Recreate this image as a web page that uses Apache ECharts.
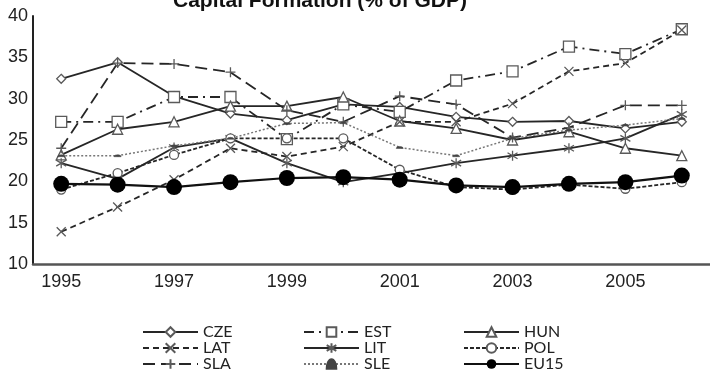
<!DOCTYPE html>
<html>
<head>
<meta charset="utf-8">
<script src="https://cdn.jsdelivr.net/npm/echarts@6/dist/echarts.min.js"></script>
<style>
  html, body { margin: 0; padding: 0; background: #fff; }
  #chart { width: 710px; height: 391px; }
</style>
</head>
<body>
<div id="chart"></div>
<script>
const years = ['1995', '1996', '1997', '1998', '1999', '2000', '2001', '2002', '2003', '2004', '2005', '2006'];
const cze  = [32.4, 34.4, 30.3, 28.2, 27.4, 29.3, 29.0, 27.8, 27.2, 27.3, 26.4, 27.2];
const est  = [27.2, 27.2, 30.2, 30.2, 25.1, 29.3, 28.4, 32.2, 33.3, 36.3, 35.4, 38.4];
const hun  = [23.2, 26.3, 27.2, 29.1, 29.1, 30.2, 27.3, 26.4, 25.0, 26.0, 24.0, 23.1];
const lat  = [13.9, 16.9, 20.2, 24.0, 23.0, 24.2, 27.2, 27.2, 29.4, 33.3, 34.3, 38.3];
const lit  = [22.2, 20.3, 24.1, 25.2, 22.2, 19.9, 21.0, 22.2, 23.1, 24.0, 25.2, 28.1];
const pol  = [19.0, 21.0, 23.2, 25.2, 25.2, 25.2, 21.4, 19.3, 19.0, 19.6, 19.1, 19.9];
const sla  = [24.0, 34.3, 34.2, 33.2, 28.6, 27.2, 30.3, 29.3, 25.3, 26.5, 29.2, 29.2];
const sle  = [23.1, 23.1, 24.3, 25.2, 27.0, 27.1, 24.1, 23.1, 25.2, 26.2, 26.8, 27.6];
const eu15 = [19.7, 19.6, 19.3, 19.9, 20.4, 20.5, 20.2, 19.5, 19.3, 19.7, 19.9, 20.7];

const ink = '#262626';
const markEdge = '#5a5a5a';

// marker shapes drawn as strokes
const xMark = 'path://M0,0L10,10M10,0L0,10';
const plusMark = 'path://M5,0L5,10M0,5L10,5';
const starMark = 'path://M5,0L5,10M0,2L10,8M10,2L0,8';
const halfDot = 'path://M0,5A5,5 0 0 1 10,5Z';

function line(name, data, opts) {
    return Object.assign({
        name: name,
        type: 'line',
        data: data,
        symbolSize: 9,
        lineStyle: { color: ink, width: 1.8, type: 'solid' },
        itemStyle: { color: '#fff', borderColor: markEdge, borderWidth: 1.3 },
        emphasis: { disabled: true },
        animation: false
    }, opts);
}

const series = [
    line('CZE', cze, { symbol: 'diamond', symbolSize: 9 }),
    line('EST', est, { symbol: 'rect', symbolSize: 11,
        lineStyle: { color: ink, width: 1.8, type: [10, 5, 2, 5] } }),
    line('HUN', hun, { symbol: 'triangle', symbolSize: 10 }),
    line('LAT', lat, { symbol: xMark, symbolSize: 9,
        lineStyle: { color: ink, width: 1.8, type: [6, 4] } }),
    line('LIT', lit, { symbol: starMark, symbolSize: 10 }),
    line('POL', pol, { symbol: 'circle', symbolSize: 9,
        lineStyle: { color: ink, width: 1.8, type: [4, 2] } }),
    line('SLA', sla, { symbol: plusMark, symbolSize: 10,
        lineStyle: { color: ink, width: 1.8, type: [12, 6] } }),
    line('SLE', sle, { symbol: halfDot, symbolSize: [7, 4], symbolKeepAspect: true,
        itemStyle: { color: '#444', borderColor: '#444', borderWidth: 0.5 },
        lineStyle: { color: '#777', width: 1.5, type: [2, 2] } }),
    line('EU15', eu15, { symbol: 'circle', symbolSize: 16, z: 5,
        itemStyle: { color: '#000', borderColor: '#000', borderWidth: 0 },
        lineStyle: { color: '#111', width: 2.2 } })
];

const legendBase = {
    orient: 'vertical',
    top: 324,
    padding: 0,
    itemWidth: 55,
    itemHeight: 12,
    itemGap: 0,
    selectedMode: false,
    textStyle: { fontFamily: 'Lato', fontSize: 16, lineHeight: 14, color: '#222' }
};

const chart = echarts.init(document.getElementById('chart'));
chart.setOption({
    backgroundColor: '#fff',
    title: {
        text: 'Capital Formation (% of GDP)',
        left: 168,
        top: -14,
        textStyle: { fontFamily: 'Liberation Sans', fontSize: 21, fontWeight: 'bold', color: '#111' }
    },
    legend: [
        Object.assign({}, legendBase, { left: 142, data: ['CZE', 'LAT', 'SLA'] }),
        Object.assign({}, legendBase, { left: 303, data: ['EST', 'LIT', 'SLE'] }),
        Object.assign({}, legendBase, { left: 463, data: ['HUN', 'POL', 'EU15'] })
    ],
    grid: { left: 33, right: 0, top: 16, bottom: 127, outerBoundsMode: 'none' },
    xAxis: {
        type: 'category',
        data: years,
        boundaryGap: true,
        axisLine: { lineStyle: { color: '#555', width: 2.5 } },
        axisTick: { show: false },
        axisLabel: { interval: 1, margin: 9, fontFamily: 'Liberation Sans', fontSize: 18, color: '#222' },
        splitLine: { show: false }
    },
    yAxis: {
        type: 'value',
        min: 10,
        max: 40,
        interval: 5,
        axisLine: { show: true, lineStyle: { color: '#222', width: 2 } },
        axisTick: { show: false },
        axisLabel: { margin: 5, fontFamily: 'Liberation Sans', fontSize: 18, color: '#222' },
        splitLine: { show: false }
    },
    series: series
});
</script>
</body>
</html>
